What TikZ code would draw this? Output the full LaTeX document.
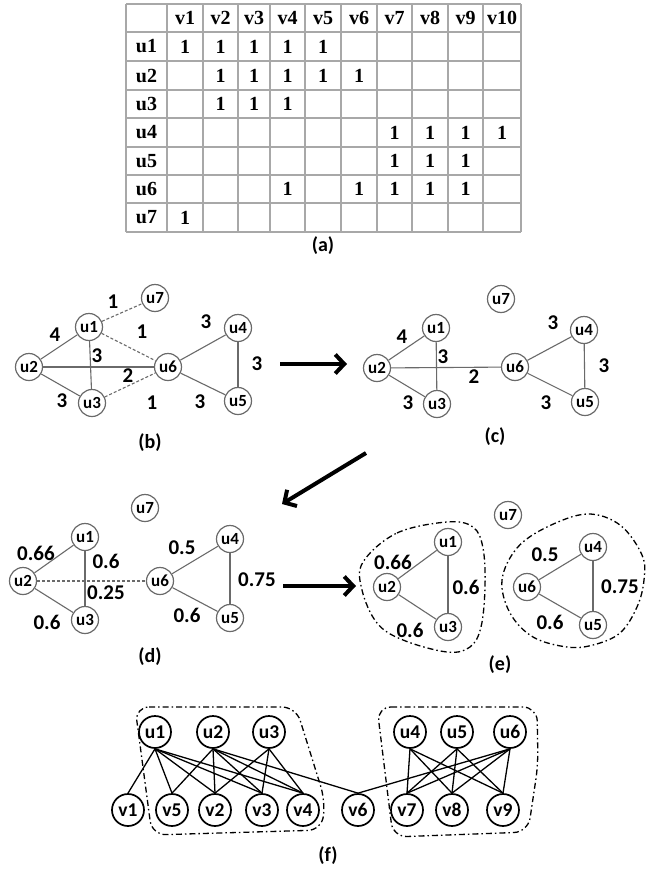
\documentclass[tikz,border=0pt]{standalone}
\usepackage{fontspec}
\setmainfont{Carlito}
\newfontfamily\tabfont{Liberation Serif}
\usetikzlibrary{arrows.meta}
\definecolor{gridgray}{HTML}{A8A8A8}
\definecolor{edgegray}{HTML}{6A6A6A}
\begin{document}
\begin{tikzpicture}[x=1pt,y=-1pt,
  vtx/.style={circle,draw=edgegray,line width=1.2pt,minimum size=27pt,inner sep=0pt,fill=white,
    font=\bfseries\fontsize{17}{17}\selectfont},
  fvtx/.style={circle,draw=black,line width=1.7pt,minimum size=32pt,inner sep=0pt,fill=white,
    font=\bfseries\fontsize{19.5}{19.5}\selectfont},
  edge/.style={draw=edgegray,line width=1.1pt},
  weak/.style={edge,dash pattern=on 3pt off 2pt},
  fedge/.style={draw=black,line width=1.3pt},
  wlab/.style={font=\bfseries\fontsize{21}{21}\selectfont,inner sep=0pt},
  caption/.style={font=\bfseries\fontsize{20}{20}\selectfont,inner sep=0pt},
  bigarrow/.style={line width=4pt,-{Straight Barb[length=9pt,width=19pt]}},
  group/.style={draw=black,line width=1.3pt,dash pattern=on 6pt off 3pt on 1.5pt off 3pt},
  cell/.style={font=\tabfont\bfseries\fontsize{20}{20}\selectfont,inner sep=0pt}
]
\useasboundingbox[fill=white] (0,0) rectangle (662,870);

% ---------- (a) incidence table ----------
\foreach \x in {126,167,203,238,270,305,341,377,412,448,483,521}
  \draw[gridgray,line width=1.8pt] (\x,4) -- (\x,232);
\foreach \y in {4,32,61,90,118,147,175,203,232}
  \draw[gridgray,line width=1.8pt] (126,\y) -- (521,\y);
\foreach \x/\t [count=\i] in {185/v1,220.5/v2,254/v3,287.5/v4,323/v5,359/v6,394.5/v7,430/v8,465.5/v9,502/v10}
  \node[cell] (hv\i) at (\x,18) {\t};
\foreach \y/\t [count=\i] in {46.5/u1,75.5/u2,104/u3,132.5/u4,161/u5,189/u6,217.5/u7}
  \node[cell] (hu\i) at (146.5,\y) {\t};
\foreach \x/\y [count=\i] in {185/46.5,220.5/46.5,254/46.5,287.5/46.5,323/46.5,
    220.5/75.5,254/75.5,287.5/75.5,323/75.5,359/75.5,
    220.5/104,254/104,287.5/104,
    394.5/132.5,430/132.5,465.5/132.5,502/132.5,
    394.5/161,430/161,465.5/161,
    287.5/189,359/189,394.5/189,430/189,465.5/189,
    185/217.5}
  \node[cell] (one\i) at (\x,\y) {1};
\node[caption] (capa) at (323,246) {(a)};

% ---------- (b) weighted user graph ----------
\node[vtx] (b7) at (155,298) {u7};
\node[vtx] (b1) at (89,327) {u1};
\node[vtx] (b2) at (29,367) {u2};
\node[vtx] (b3) at (92,403) {u3};
\node[vtx] (b6) at (168,367) {u6};
\node[vtx] (b4) at (238,328) {u4};
\node[vtx] (b5) at (238,401) {u5};
\draw[weak] (b1) -- (b7);
\draw[weak] (b1) -- (b6);
\draw[weak] (b3) -- (b6);
\draw[edge] (b2) -- (b1);
\draw[edge] (b2) -- (b6);
\draw[edge] (b2) -- (b3);
\draw[edge] (b1) -- (b3);
\draw[edge] (b6) -- (b4);
\draw[edge] (b6) -- (b5);
\draw[edge] (b4) -- (b5);
\node[wlab] (wb1) at (113,302) {1};
\node[wlab] (wb2) at (55,335) {4};
\node[wlab] (wb3) at (142,332) {1};
\node[wlab] (wb4) at (97,356) {3};
\node[wlab] (wb5) at (128,376) {2};
\node[wlab] (wb6) at (62,401) {3};
\node[wlab] (wb7) at (152,403) {1};
\node[wlab] (wb8) at (206,322) {3};
\node[wlab] (wb9) at (257,364) {3};
\node[wlab] (wb10) at (200,402) {3};
\node[caption] (capb) at (150,443) {(b)};

% ---------- (c) after pruning weak links ----------
\node[vtx] (c7) at (501,299) {u7};
\node[vtx] (c1) at (436,328) {u1};
\node[vtx] (c2) at (377,368) {u2};
\node[vtx] (c3) at (437,404) {u3};
\node[vtx] (c6) at (515,367) {u6};
\node[vtx] (c4) at (584,330) {u4};
\node[vtx] (c5) at (585,402) {u5};
\draw[edge] (c2) -- (c1);
\draw[edge] (c2) -- (c6);
\draw[edge] (c2) -- (c3);
\draw[edge] (c1) -- (c3);
\draw[edge] (c6) -- (c4);
\draw[edge] (c6) -- (c5);
\draw[edge] (c4) -- (c5);
\node[wlab] (wc1) at (402,337) {4};
\node[wlab] (wc2) at (443,357) {3};
\node[wlab] (wc3) at (474,377) {2};
\node[wlab] (wc4) at (408,403) {3};
\node[wlab] (wc5) at (553,323) {3};
\node[wlab] (wc6) at (604,366) {3};
\node[wlab] (wc7) at (546,403) {3};
\node[caption] (capc) at (495,437) {(c)};

% ---------- (d) normalised weights ----------
\node[vtx] (d7) at (145,508) {u7};
\node[vtx] (d1) at (85,537) {u1};
\node[vtx] (d2) at (23,581) {u2};
\node[vtx] (d3) at (85,620) {u3};
\node[vtx] (d6) at (160,581) {u6};
\node[vtx] (d4) at (230,539) {u4};
\node[vtx] (d5) at (230,618) {u5};
\draw[edge] (d2) -- (d1);
\draw[edge] (d1) -- (d3);
\draw[edge] (d2) -- (d3);
\draw[weak] (d2) -- (d6);
\draw[edge] (d6) -- (d4);
\draw[edge] (d6) -- (d5);
\draw[edge] (d4) -- (d5);
\node[wlab] (wd1) at (36,553) {0.66};
\node[wlab] (wd2) at (106,561) {0.6};
\node[wlab] (wd3) at (106,593) {0.25};
\node[wlab] (wd4) at (47,622) {0.6};
\node[wlab] (wd5) at (182,548) {0.5};
\node[wlab] (wd6) at (257,580) {0.75};
\node[wlab] (wd7) at (187,615) {0.6};
\node[caption] (capd) at (150,657) {(d)};

% ---------- (e) resulting communities ----------
\draw[group] plot[smooth cycle,tension=0.6] coordinates {
  (363,562) (397,533) (447,522) (473,527) (483,548) (485,587) (481,627)
  (470,647) (447,652) (403,640) (377,623) (362,590)};
\draw[group] plot[smooth cycle,tension=0.6] coordinates {
  (502,580) (517,548) (547,527) (587,514) (620,525) (642,555) (644,580)
  (637,607) (620,633) (593,645) (567,647) (533,637) (510,613)};
\node[vtx] (e7) at (508,515) {u7};
\node[vtx] (e1) at (448,542) {u1};
\node[vtx] (e2) at (387,587) {u2};
\node[vtx] (e3) at (448,627) {u3};
\node[vtx] (e6) at (527,587) {u6};
\node[vtx] (e4) at (593,547) {u4};
\node[vtx] (e5) at (593,625) {u5};
\draw[edge] (e2) -- (e1);
\draw[edge] (e1) -- (e3);
\draw[edge] (e2) -- (e3);
\draw[edge] (e6) -- (e4);
\draw[edge] (e6) -- (e5);
\draw[edge] (e4) -- (e5);
\node[wlab] (we1) at (393,562) {0.66};
\node[wlab] (we2) at (466,587) {0.6};
\node[wlab] (we3) at (410,630) {0.6};
\node[wlab] (we4) at (545,555) {0.5};
\node[wlab] (we5) at (620,587) {0.75};
\node[wlab] (we6) at (550,622) {0.6};
\node[caption] (cape) at (500,665) {(e)};

% ---------- transition arrows ----------
\coordinate (ab0) at (280,364);
\coordinate (ab1) at (347,364);
\coordinate (ac0) at (366,453);
\coordinate (ac1) at (282,504);
\coordinate (ad0) at (283,586);
\coordinate (ad1) at (356,586);
\draw[bigarrow] (ab0) -- (ab1);
\draw[bigarrow] (ac0) -- (ac1);
\draw[bigarrow] (ad0) -- (ad1);

% ---------- (f) bipartite user-item graph ----------
\draw[group,rounded corners=14pt] (135,707) -- (296,707) -- (325,800) -- (322,830) -- (152,835) -- cycle;
\draw[group,rounded corners=14pt] (377,707) -- (537,707) -- (538,765) -- (528,832) -- (393,837) -- cycle;
\foreach \x/\t in {155/u1,213/u2,269/u3,410/u4,457/u5,510/u6}
  \node[fvtx] (f\t) at (\x,732) {\t};
\foreach \x/\t in {128/v1,172/v5,215/v2,262/v3,303/v4,358/v6,407/v7,452/v8,503/v9}
  \node[fvtx] (f\t) at (\x,810) {\t};
\foreach \u/\v in {u1/v1,u1/v5,u1/v2,u1/v3,u1/v4,
                   u2/v5,u2/v2,u2/v3,u2/v4,u2/v6,
                   u3/v2,u3/v3,u3/v4,
                   u4/v7,u4/v8,u4/v9,
                   u5/v7,u5/v8,u5/v9,
                   u6/v6,u6/v7,u6/v8,u6/v9}
  \draw[fedge] (f\u.south) -- (f\v.north);
\node[caption] (capf) at (328,856) {(f)};
\end{tikzpicture}
\end{document}
